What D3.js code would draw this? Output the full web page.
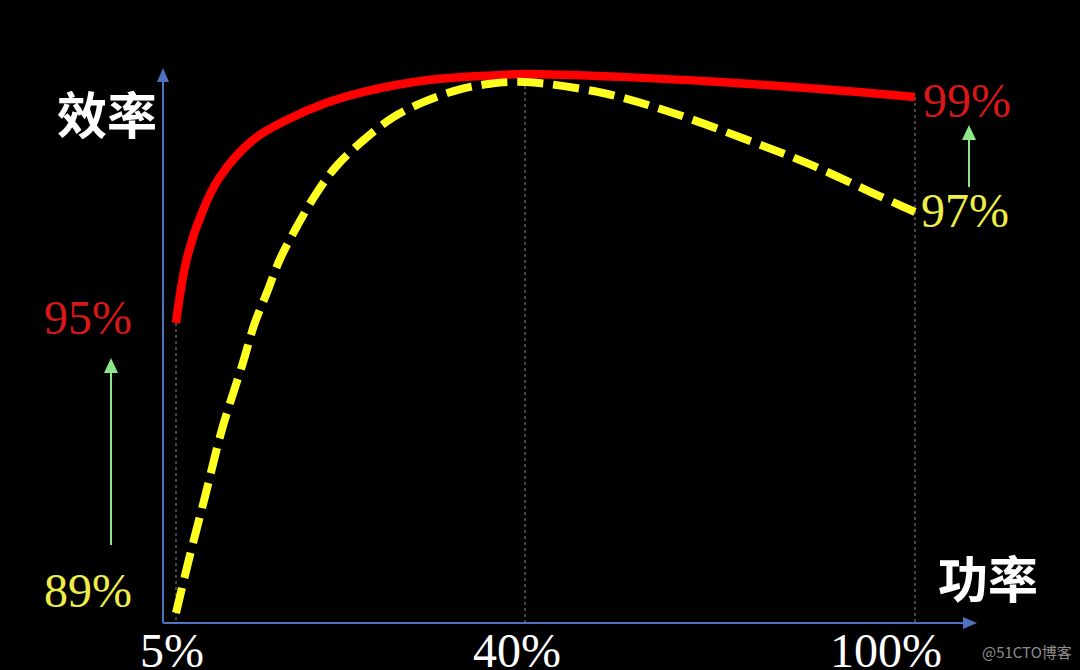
<!DOCTYPE html>
<html><head><meta charset="utf-8">
<script src="https://cdn.jsdelivr.net/npm/d3@7"></script>
<style>html,body{margin:0;padding:0;background:#000;}svg{display:block;}</style>
</head><body>
<svg id="c" width="1080" height="670"></svg>
<script>
// ---- data ----
const xTicks = [5, 40, 100];
const xTickLabels = ["5%", "40%", "100%"];
const yRefValues = [89, 95, 97, 99];
const redPower = [5, 6.1, 7.7, 9.4, 12.7, 16.1, 20.1, 23.8, 30.5, 37.2, 40, 54.6, 70, 85.4, 100];
const redEff   = [95, 96.17, 97.03, 97.61, 98.25, 98.60, 98.90, 99.09, 99.30, 99.38, 99.40, 99.35, 99.26, 99.14, 99.0];
const yelPower = [5, 6.2, 7.9, 9.6, 11.7, 12.9, 14.1, 15.4, 17.1, 19.1, 21.1, 23.8, 26.8, 29.8, 33.2, 36.5, 40, 52, 62.3, 73.1, 83.4, 93.5, 100];
const yelEff   = [89, 90.03, 91.40, 92.79, 94.17, 95.0, 95.54, 96.14, 96.73, 97.33, 97.80, 98.25, 98.65, 98.91, 99.12, 99.23, 99.26, 99.07, 98.74, 98.30, 97.85, 97.33, 97.0];
const leftLabels = ["95%", "89%"];
const rightLabels = ["99%", "97%"];
const xTitle = "功率", yTitle = "效率";

// ---- layout ----
const svg = d3.select("#c");
svg.append("rect").attr("width",1080).attr("height",670).attr("fill","#000");
const x = d3.scaleLinear().domain(xTicks).range([176, 525, 915]);
const y = d3.scaleLinear().domain(yRefValues).range([613, 323, 212, 97]);
const axisY0 = 623, axisX0 = 163;
const axisColor = "#4f72c0";

const red = redPower.map((p,i)=>({p, e: redEff[i]}));
const yel = yelPower.map((p,i)=>({p, e: yelEff[i]}));

// guide lines
const topAt = v => {
  const r = red.find(d=>d.p===v), w = yel.find(d=>d.p===v);
  return d3.max([r?r.e:-Infinity, w?w.e:-Infinity]);
};
svg.selectAll("line.guide").data(xTicks).join("line").attr("class","guide")
  .attr("x1", d=>x(d)).attr("x2", d=>x(d))
  .attr("y1", d=>y(topAt(d))).attr("y2", axisY0)
  .attr("stroke","#8a8a8a").attr("stroke-width",1).attr("stroke-dasharray","3,3");

// axes (D3 axis, styled to look like plain arrows)
const xAxis = svg.append("g").attr("transform",`translate(0,${axisY0})`)
  .call(d3.axisBottom(x).tickValues(xTicks).tickSize(0).tickFormat(""));
xAxis.select(".domain").remove();
svg.append("line").attr("x1",axisX0).attr("x2",965).attr("y1",axisY0).attr("y2",axisY0)
  .attr("stroke",axisColor).attr("stroke-width",2);
svg.append("path").attr("d",`M977,${axisY0} L963,${axisY0-6} L963,${axisY0+6} Z`).attr("fill",axisColor);
svg.append("line").attr("x1",axisX0).attr("x2",axisX0).attr("y1",axisY0).attr("y2",80)
  .attr("stroke",axisColor).attr("stroke-width",2);
svg.append("path").attr("d",`M${axisX0},68 L${axisX0-6},82 L${axisX0+6},82 Z`).attr("fill",axisColor);

// tick labels
const dxMap = {5:-4, 40:-8, 100:-29};
svg.selectAll("text.xt").data(xTicks).join("text").attr("class","xt")
  .attr("x", d=>x(d)+dxMap[d]).attr("y", 667)
  .attr("text-anchor","middle").attr("fill","#fff")
  .attr("font-family","'Liberation Serif', 'Times New Roman', serif").attr("font-size",48)
  .text((d,i)=>xTickLabels[i]);

// curves
const line = d3.line().x(d=>x(d.p)).y(d=>y(d.e)).curve(d3.curveCatmullRom.alpha(0.5));
svg.append("path").datum(red).attr("d",line).attr("fill","none")
  .attr("stroke","#ff0000").attr("stroke-width",8.5);
svg.append("path").datum(yel).attr("d",line).attr("fill","none")
  .attr("stroke","#ffff22").attr("stroke-width",8).attr("stroke-dasharray","26,10");

// value labels
const serif = "'Liberation Serif', 'Times New Roman', serif";
svg.append("text").attr("x",88).attr("y",y(95)+11).attr("text-anchor","middle")
  .attr("fill","#d81818").attr("font-family",serif).attr("font-size",48).text(leftLabels[0]);
svg.append("text").attr("x",88).attr("y",y(89)-6).attr("text-anchor","middle")
  .attr("fill","#eeee4a").attr("font-family",serif).attr("font-size",48).text(leftLabels[1]);
svg.append("text").attr("x",923).attr("y",y(99)+20).attr("text-anchor","start")
  .attr("fill","#d81818").attr("font-family",serif).attr("font-size",48).text(rightLabels[0]);
svg.append("text").attr("x",921).attr("y",y(97)+15).attr("text-anchor","start")
  .attr("fill","#eeee4a").attr("font-family",serif).attr("font-size",48).text(rightLabels[1]);

// green arrows
const green = "#8fe68a";
function upArrow(cx, yBottom, yTip){
  svg.append("line").attr("x1",cx).attr("x2",cx).attr("y1",yBottom).attr("y2",yTip+12)
    .attr("stroke",green).attr("stroke-width",2);
  svg.append("path").attr("d",`M${cx},${yTip} L${cx-7},${yTip+15} L${cx+7},${yTip+15} Z`).attr("fill",green);
}
upArrow(111, 545, 358);
upArrow(969, 187, 125);

// titles
const cjk = "'Noto Sans CJK SC', 'Noto Sans', sans-serif";
svg.append("text").attr("x",157).attr("y",112).attr("dominant-baseline","central")
  .attr("text-anchor","end").attr("fill","#fff").attr("font-family",cjk)
  .attr("font-weight",700).attr("font-size",50).text(yTitle);
svg.append("text").attr("x",988).attr("y",576).attr("dominant-baseline","central")
  .attr("text-anchor","middle").attr("fill","#fff").attr("font-family",cjk)
  .attr("font-weight",700).attr("font-size",50).text(xTitle);

// watermark
svg.append("text").attr("x",982).attr("y",658).attr("fill","#8d8d8d")
  .attr("font-family","'Noto Sans CJK SC', sans-serif").attr("font-size",15).text("@51CTO博客");
</script>
</body></html>
